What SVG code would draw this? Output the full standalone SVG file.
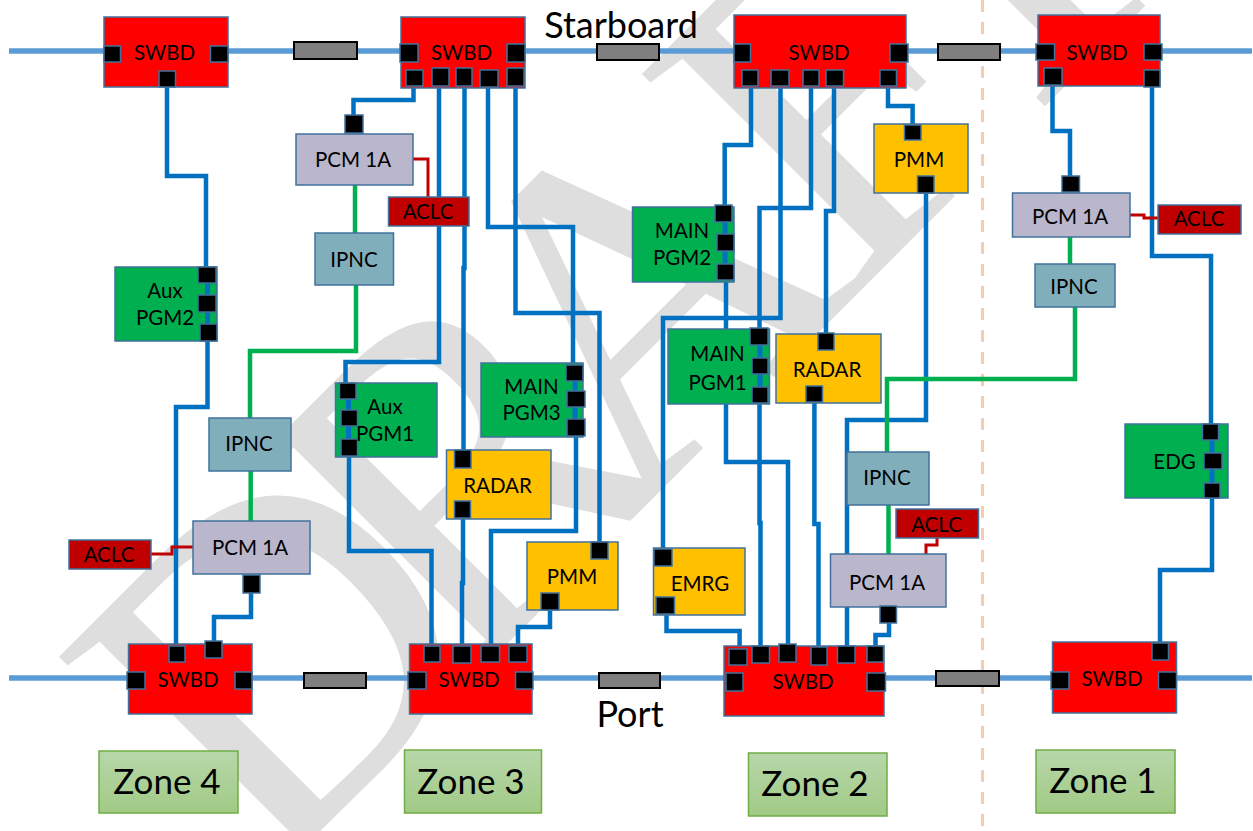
<svg xmlns="http://www.w3.org/2000/svg" width="1253" height="831" viewBox="0 0 1253 831">
<style>
text{font-family:Lato,"Liberation Sans",sans-serif;fill:#000;text-anchor:middle;dominant-baseline:central;font-size:20.500px}
.big{font-size:35px}
.lab{font-size:36px}
.n{stroke:#41719c;stroke-width:1.5}
.swbd{fill:#f00}.pgm{fill:#00b050}.yel{fill:#ffc000}.pcm{fill:#bab6cc}.ipnc{fill:#81aebb}.aclc{fill:#c00000}
.p{fill:#000;stroke:#41719c;stroke-width:1.5}
.zone{fill:url(#zg);stroke:#70ad47;stroke-width:1.5}
.w,.g,.r,.b,.l{fill:none;stroke-linejoin:miter}
.w{stroke:#0070c0;stroke-width:4.5}
.l{stroke:#0070c0;stroke-width:5}
.g{stroke:#00b050;stroke-width:4.5}
.r{stroke:#c00000;stroke-width:3}
.b{stroke:#5b9bd5;stroke-width:5.500}
.t{fill:#7f7f7f;stroke:#000;stroke-width:2}
</style>
<defs><linearGradient id="zg" x1="0" y1="0" x2="0" y2="1"><stop offset="0" stop-color="#b7d7aa"/><stop offset="1" stop-color="#a1ca85"/></linearGradient></defs>
<rect width="1253" height="831" fill="#fff"/>
<text id="watermark" transform="translate(267,884) rotate(-45)" x="0" y="0" dx="0 -65 -77 -26 -58" style="font-family:'Liberation Serif',serif;font-size:470px;font-kerning:none;fill:#dedede;text-anchor:start;dominant-baseline:alphabetic">DRAFT</text>
<path d="M982.500 0V831" fill="none" stroke="#f8cbad" stroke-width="3" stroke-dasharray="12 10"/>
<g id="connectors">
<path class="b" d="M9 51H1252"/>
<path class="b" d="M9 678H1252"/>
<rect class="t" x="294" y="42" width="63" height="17"/>
<rect class="t" x="597" y="44" width="62" height="16"/>
<rect class="t" x="938" y="44" width="62" height="16"/>
<rect class="t" x="304" y="673" width="62" height="15"/>
<rect class="t" x="599" y="673" width="61" height="15"/>
<rect class="t" x="936" y="671" width="63" height="15"/>
<path class="w" d="M167 87V176H206V267"/>
<path class="w" d="M207.500 340V407H176V646"/>
<path class="w" d="M353.500 115V100H413.500V86"/>
<path class="w" d="M439 86V362H345.500V383"/>
<path class="w" d="M464.500 86V268H463.500V450"/>
<path class="w" d="M488 87V227H573V365"/>
<path class="w" d="M515.500 86V313H599.500V542"/>
<path class="w" d="M349 456V551H431.500V646"/>
<path class="w" d="M576 436V531H491V646"/>
<path class="w" d="M463 518V583H462V646"/>
<path class="w" d="M550 610V627H518V646"/>
<path class="w" d="M251 593V617H214V641"/>
<path class="w" d="M751 86V145H724.700V205"/>
<path class="w" d="M726 280V462H788V644"/>
<path class="w" d="M780.500 86V318H663V549"/>
<path class="w" d="M811 86V208H759.500V328"/>
<path class="w" d="M759.500 403V523H760.500V646"/>
<path class="w" d="M834 86V211H826V333"/>
<path class="w" d="M888 86V106H912.600V125"/>
<path class="w" d="M926 193V420H847V646"/>
<path class="w" d="M814.400 402V524H818.500V647"/>
<path class="w" d="M1052.500 85V131H1070V176"/>
<path class="w" d="M1152 87V256H1211V424"/>
<path class="w" d="M1212 498V570H1160V643"/>
<path class="w" d="M666.500 614V631H739.600V649"/>
<path class="w" d="M889 623V635H875.500V646"/>
<path class="g" d="M355 185V233"/>
<path class="g" d="M356 285V351H250V418"/>
<path class="g" d="M250.700 471V521"/>
<path class="g" d="M1070 237V264"/>
<path class="g" d="M1075 307V379H887V452"/>
<path class="g" d="M888.500 505V554"/>
<path class="r" d="M413 159H428V197"/>
<path class="r" d="M151 554H172V547H193"/>
<path class="r" d="M1130 215H1144V218H1158"/>
<path class="r" d="M937 538V545H926V554"/>
</g>
<g id="swbd-s4"><rect class="n swbd" x="104" y="17" width="124" height="70"/><rect class="p" x="104" y="46" width="16.500" height="16"/><rect class="p" x="210.500" y="46" width="17.500" height="16"/><rect class="p" x="159" y="71" width="16.500" height="16"/><text x="164.500" y="52">SWBD</text></g>
<g id="swbd-s3"><rect class="n swbd" x="401" y="17" width="124" height="71"/><rect class="p" x="400" y="44" width="18" height="18"/><rect class="p" x="507" y="44" width="18" height="18"/><rect class="p" x="406" y="70" width="17" height="16"/><rect class="p" x="432" y="68" width="17" height="18"/><rect class="p" x="456" y="68" width="16" height="18"/><rect class="p" x="480" y="70" width="18" height="17"/><rect class="p" x="507" y="68" width="17" height="18"/><text x="461.500" y="52">SWBD</text></g>
<g id="swbd-s2"><rect class="n swbd" x="734" y="15" width="172" height="73"/><rect class="p" x="734" y="44" width="16.500" height="18"/><rect class="p" x="890" y="44" width="18" height="18"/><rect class="p" x="742" y="70" width="16" height="16"/><rect class="p" x="771" y="70" width="18" height="16"/><rect class="p" x="803" y="70" width="16" height="16"/><rect class="p" x="826" y="70" width="17.500" height="16"/><rect class="p" x="880" y="70" width="16.500" height="16"/><text x="819" y="52">SWBD</text></g>
<g id="swbd-s1"><rect class="n swbd" x="1038" y="15" width="122" height="71"/><rect class="p" x="1036" y="44" width="18.500" height="16"/><rect class="p" x="1144" y="44" width="18" height="16"/><rect class="p" x="1044" y="68" width="18" height="17"/><rect class="p" x="1144" y="70" width="16" height="17"/><text x="1097" y="52">SWBD</text></g>
<g id="swbd-p4"><rect class="n swbd" x="128.500" y="644" width="123.500" height="70"/><rect class="p" x="127" y="672" width="18" height="17"/><rect class="p" x="235" y="672" width="17" height="17"/><rect class="p" x="169" y="646" width="16" height="16"/><rect class="p" x="205" y="641" width="17" height="17"/><text x="188" y="679">SWBD</text></g>
<g id="swbd-p3"><rect class="n swbd" x="409.500" y="644" width="122.500" height="70"/><rect class="p" x="408" y="672" width="18" height="17"/><rect class="p" x="515.500" y="672" width="17.500" height="17"/><rect class="p" x="424" y="646" width="16" height="16"/><rect class="p" x="453" y="646" width="18" height="17"/><rect class="p" x="481" y="646" width="18.500" height="16"/><rect class="p" x="509" y="646" width="18" height="16"/><text x="469" y="679">SWBD</text></g>
<g id="swbd-p2"><rect class="n swbd" x="724" y="646" width="160" height="70"/><rect class="p" x="726" y="673" width="17" height="18"/><rect class="p" x="867" y="673" width="18.500" height="18"/><rect class="p" x="729" y="649" width="18" height="16"/><rect class="p" x="752" y="646" width="17.500" height="17"/><rect class="p" x="779" y="644" width="17" height="18"/><rect class="p" x="811" y="647" width="16" height="18"/><rect class="p" x="837.500" y="646" width="17.500" height="17"/><rect class="p" x="867" y="646" width="16.500" height="16"/><text x="803" y="681">SWBD</text></g>
<g id="swbd-p1"><rect class="n swbd" x="1052.500" y="642" width="124" height="71"/><rect class="p" x="1051" y="672" width="18" height="17"/><rect class="p" x="1158.500" y="672" width="18" height="17"/><rect class="p" x="1152" y="643" width="16.500" height="17"/><text x="1112" y="678">SWBD</text></g>
<g id="aux-pgm2"><rect class="n pgm" x="115" y="267" width="102" height="74"/><path class="l" d="M207.500 283V324"/><rect class="p" x="198" y="267" width="18" height="16"/><rect class="p" x="198" y="295" width="18" height="17"/><rect class="p" x="200" y="324" width="17" height="17"/><text x="165" y="290">Aux</text><text x="165" y="317">PGM2</text></g>
<g id="aux-pgm1"><rect class="n pgm" x="335.500" y="383" width="101.500" height="74"/><path class="l" d="M348.500 399V439"/><rect class="p" x="339.500" y="383" width="16.500" height="16"/><rect class="p" x="341" y="410" width="16.500" height="16"/><rect class="p" x="341" y="439" width="16.500" height="17"/><text x="385" y="406">Aux</text><text x="385" y="433">PGM1</text></g>
<g id="main-pgm3"><rect class="n pgm" x="481" y="363" width="102" height="74"/><path class="l" d="M575 381V419"/><rect class="p" x="566" y="365" width="17" height="16"/><rect class="p" x="567" y="391" width="18" height="16"/><rect class="p" x="567" y="419" width="18" height="17"/><text x="531.500" y="386">MAIN</text><text x="531.500" y="412">PGM3</text></g>
<g id="main-pgm2"><rect class="n pgm" x="632.500" y="207" width="101.500" height="75"/><path class="l" d="M725 222V264"/><rect class="p" x="715" y="205" width="17" height="17"/><rect class="p" x="717" y="234" width="17" height="17"/><rect class="p" x="717" y="264" width="17" height="16"/><text x="682" y="230">MAIN</text><text x="682" y="257">PGM2</text></g>
<g id="main-pgm1"><rect class="n pgm" x="668" y="329" width="101.500" height="75"/><path class="l" d="M760 345V387"/><rect class="p" x="750" y="328" width="18" height="17"/><rect class="p" x="752" y="358" width="16" height="16"/><rect class="p" x="752" y="387" width="16" height="16"/><text x="717.500" y="353">MAIN</text><text x="717.500" y="382">PGM1</text></g>
<g id="edg"><rect class="n pgm" x="1125" y="424" width="103" height="74"/><path class="l" d="M1212 440V483"/><rect class="p" x="1202.500" y="424" width="16" height="16"/><rect class="p" x="1204" y="453" width="18" height="16"/><rect class="p" x="1204" y="483" width="16" height="15"/><text x="1174.500" y="461">EDG</text></g>
<g id="radar-3"><rect class="n yel" x="446.500" y="450" width="104.500" height="69"/><rect class="p" x="454.500" y="450" width="16.500" height="18"/><rect class="p" x="454.500" y="501" width="16" height="17"/><text x="497.500" y="485">RADAR</text></g>
<g id="radar-2"><rect class="n yel" x="776" y="334" width="105" height="69"/><rect class="p" x="818" y="333" width="16" height="17"/><rect class="p" x="806" y="386" width="16.500" height="16"/><text x="827" y="369">RADAR</text></g>
<g id="pmm-3"><rect class="n yel" x="527" y="542" width="91" height="68"/><rect class="p" x="591" y="542" width="17" height="17"/><rect class="p" x="541" y="593" width="18" height="17"/><text x="572" y="576">PMM</text></g>
<g id="pmm-2"><rect class="n yel" x="874" y="124" width="94" height="69"/><rect class="p" x="904.500" y="125" width="16.500" height="15"/><rect class="p" x="917.500" y="176" width="16.500" height="17"/><text x="919" y="159">PMM</text></g>
<g id="emrg"><rect class="n yel" x="653.500" y="548" width="91.500" height="67"/><rect class="p" x="654" y="549" width="18" height="17"/><rect class="p" x="656" y="597" width="18.500" height="17"/><text x="700" y="583">EMRG</text></g>
<g id="pcm-3"><rect class="n pcm" x="296" y="134" width="117" height="51"/><rect class="p" x="345" y="115" width="18" height="18"/><text x="353" y="159">PCM 1A</text></g>
<g id="pcm-4"><rect class="n pcm" x="193" y="521" width="117" height="53"/><rect class="p" x="243" y="575" width="17" height="18"/><text x="250" y="547">PCM 1A</text></g>
<g id="pcm-2"><rect class="n pcm" x="830.500" y="554" width="115.500" height="53"/><rect class="p" x="880" y="606" width="16.500" height="17"/><text x="887" y="582">PCM 1A</text></g>
<g id="pcm-1"><rect class="n pcm" x="1012.500" y="193" width="117.500" height="44"/><rect class="p" x="1062" y="176" width="17.500" height="16"/><text x="1070" y="216">PCM 1A</text></g>
<g id="ipnc-3"><rect class="n ipnc" x="315" y="233" width="78.500" height="52"/><text x="354" y="259">IPNC</text></g>
<g id="ipnc-4"><rect class="n ipnc" x="209" y="418" width="82" height="53"/><text x="249" y="443">IPNC</text></g>
<g id="ipnc-2"><rect class="n ipnc" x="847" y="452" width="82" height="53"/><text x="887" y="477">IPNC</text></g>
<g id="ipnc-1"><rect class="n ipnc" x="1035" y="264" width="80" height="43"/><text x="1074" y="286">IPNC</text></g>
<g id="aclc-3"><rect class="n aclc" x="388.500" y="197" width="80.500" height="29"/><text x="428" y="211">ACLC</text></g>
<g id="aclc-4"><rect class="n aclc" x="69" y="540" width="82" height="29"/><text x="109" y="554">ACLC</text></g>
<g id="aclc-2"><rect class="n aclc" x="896" y="509" width="82.500" height="29"/><text x="936.500" y="524">ACLC</text></g>
<g id="aclc-1"><rect class="n aclc" x="1158" y="205" width="83" height="29"/><text x="1199" y="218">ACLC</text></g>
<g id="zone-4"><rect class="zone" x="99" y="751" width="139" height="62"/><text class="big" x="167" y="780">Zone 4</text></g>
<g id="zone-3"><rect class="zone" x="404.500" y="750" width="137" height="63"/><text class="big" x="471" y="780">Zone 3</text></g>
<g id="zone-2"><rect class="zone" x="748.500" y="753" width="138.500" height="63"/><text class="big" x="815" y="782">Zone 2</text></g>
<g id="zone-1"><rect class="zone" x="1036" y="750" width="139" height="63"/><text class="big" x="1103" y="779">Zone 1</text></g>
<text class="lab" x="621" y="24">Starboard</text>
<text class="lab" x="630" y="713">Port</text>
</svg>
